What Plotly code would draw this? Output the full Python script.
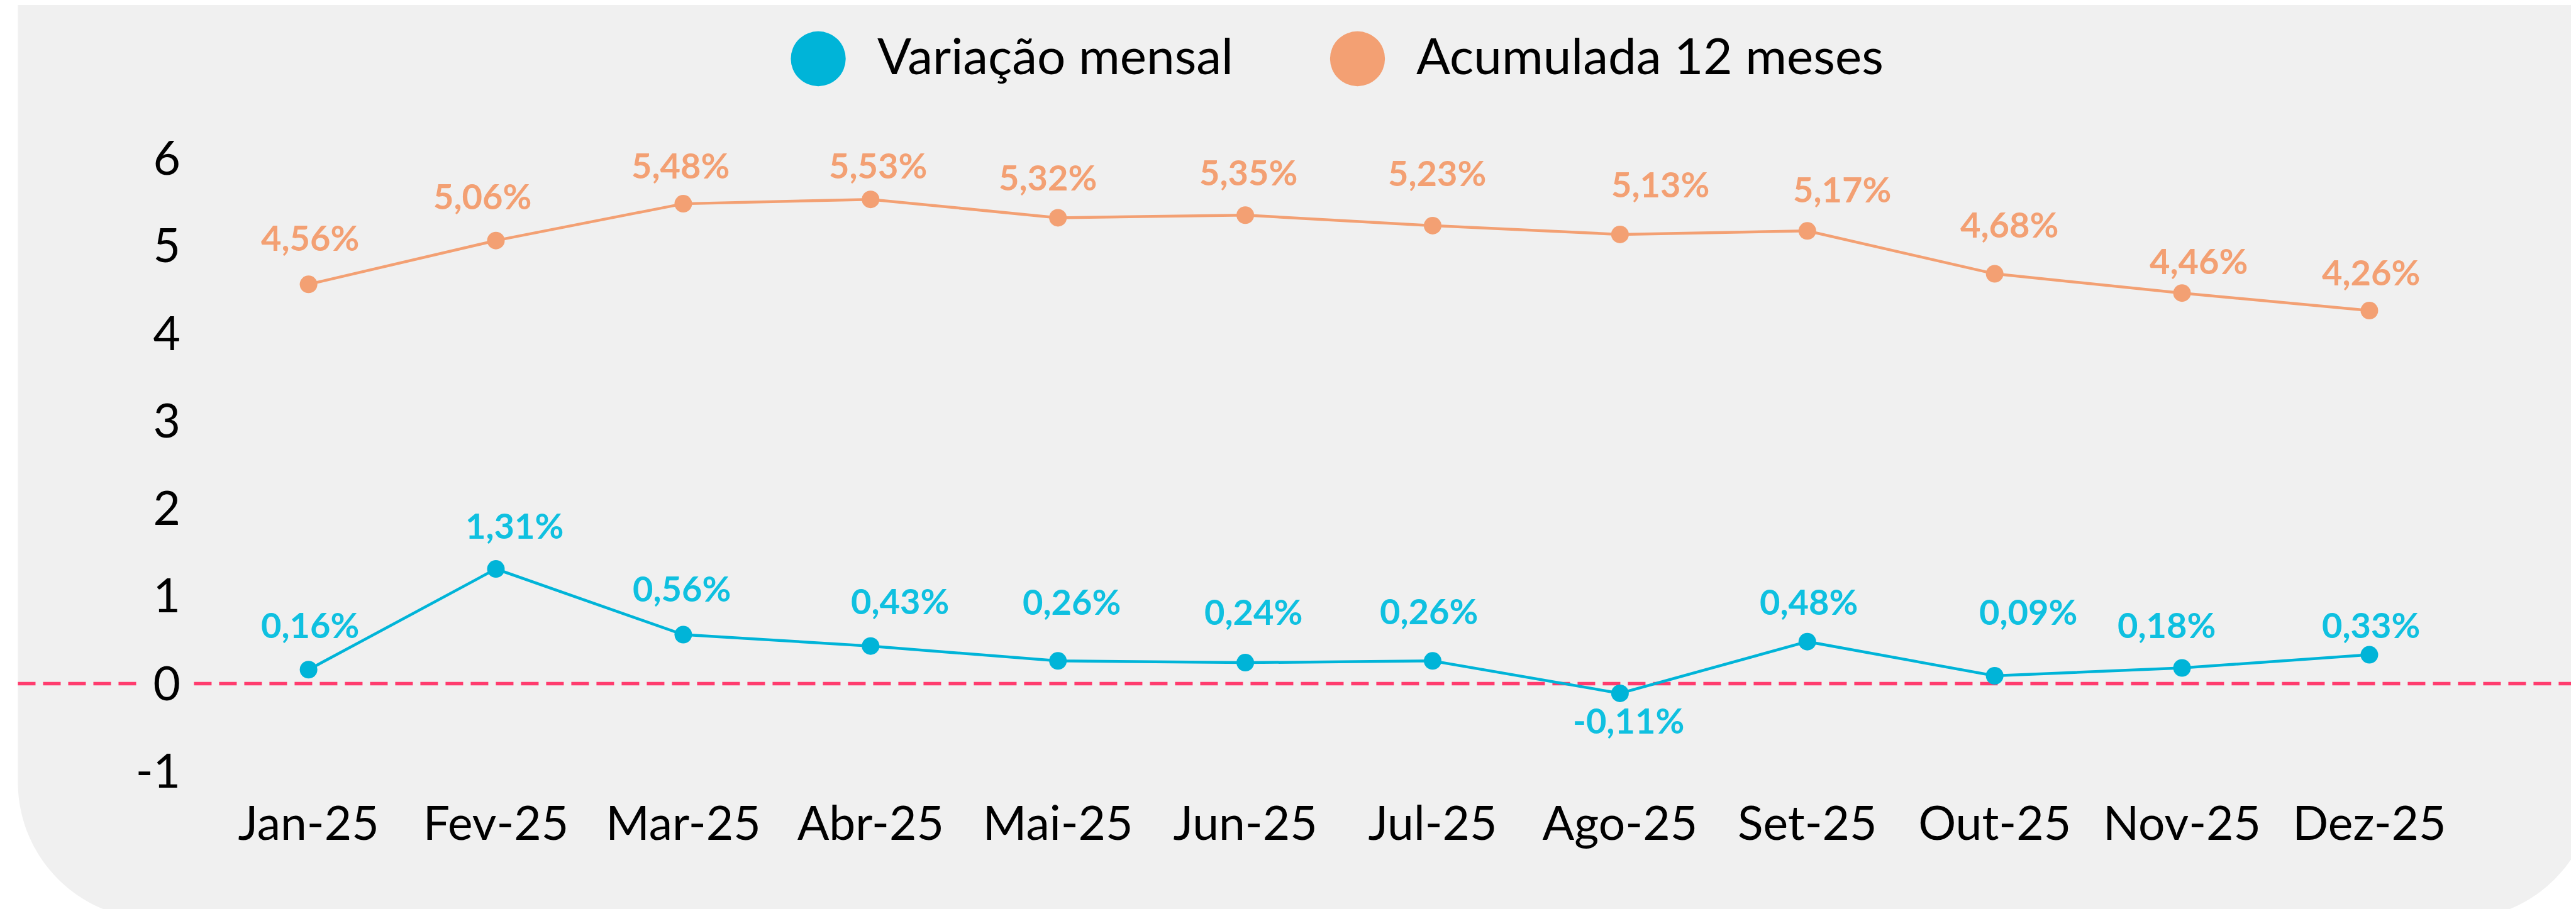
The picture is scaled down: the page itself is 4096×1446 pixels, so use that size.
import plotly.graph_objects as go

# ---------------- data ----------------
categories = ["Jan-25", "Fev-25", "Mar-25", "Abr-25", "Mai-25", "Jun-25",
              "Jul-25", "Ago-25", "Set-25", "Out-25", "Nov-25", "Dez-25"]
variacao_mensal = [0.16, 1.31, 0.56, 0.43, 0.26, 0.24, 0.26, -0.11, 0.48, 0.09, 0.18, 0.33]
acumulada_12m = [4.56, 5.06, 5.48, 5.53, 5.32, 5.35, 5.23, 5.13, 5.17, 4.68, 4.46, 4.26]
y_tick_values = [-1, 0, 1, 2, 3, 4, 5, 6]
y_tick_labels = ["-1", "0", "1", "2", "3", "4", "5", "6"]
series_names = ["Variação mensal", "Acumulada 12 meses"]

# label nudges (reference pixels: dx right, dy up)
mensal_label_nudge = [(3, 76), (31, 73), (-3, 78), (49, 76), (23, 100), (14, 86),
                      (-6, 84), (14, -45), (2, 68), (56, 108), (-26, 73), (3, 51)]
acum_label_nudge = [(2, 79), (-23, 75), (-5, 65), (12, 58), (-17, 68), (5, 72),
                    (7, 89), (68, 85), (58, 70), (25, 83), (28, 54), (3, 65)]

# ---------------- styling / layout ----------------
S = 0.949
W, H = 4096, 1446
OFF = 8  # page body margin offset
BLUE = "#00B4D8"
BLUE_TXT = "#0FC0E0"
ORANGE = "#F3A073"
RED = "#FF3C6E"
PANEL = "#F0F0F0"
FONT = "Lato"

# window-coordinate targets
jan_px = 517 * S
step_px = 313.9 * S
Lw, Rw = 300, 4060
zero_px = 1146 * S
unit_px = 146.8 * S
TOPw, BOTw = 150, 1250

x_range = [(Lw - jan_px) / step_px, (Rw - jan_px) / step_px]
y_range = [-(BOTw - zero_px) / unit_px, (zero_px - TOPw) / unit_px]

L, R = Lw - OFF, Rw - OFF
TOP, BOT = TOPw - OFF, BOTw - OFF


def px_x(px):
    return (px - Lw) / (Rw - Lw)


def px_y(py):
    return (BOTw - py) / (BOTw - TOPw)


def fmt(v):
    return f"{v:.2f}".replace(".", ",") + "%"


fig = go.Figure()
fig.add_trace(go.Scatter(x=categories, y=acumulada_12m, mode="lines+markers",
                         name=series_names[1],
                         line=dict(color=ORANGE, width=4.5),
                         marker=dict(color=ORANGE, size=28), showlegend=False))
fig.add_trace(go.Scatter(x=categories, y=variacao_mensal, mode="lines+markers",
                         name=series_names[0],
                         line=dict(color=BLUE, width=4.5),
                         marker=dict(color=BLUE, size=28), showlegend=False))

annotations = []
for cat, v, (dx, dy) in zip(categories, variacao_mensal, mensal_label_nudge):
    annotations.append(dict(x=cat, y=v, xref="x", yref="y", text=fmt(v), showarrow=False,
                            xanchor="center", yanchor="middle",
                            xshift=dx * S, yshift=dy * S,
                            font=dict(family=FONT, size=56, color=BLUE_TXT, weight="bold")))
for cat, v, (dx, dy) in zip(categories, acumulada_12m, acum_label_nudge):
    annotations.append(dict(x=cat, y=v, xref="x", yref="y", text=fmt(v), showarrow=False,
                            xanchor="center", yanchor="middle",
                            xshift=dx * S, yshift=dy * S,
                            font=dict(family=FONT, size=56, color=ORANGE, weight="bold")))

# custom legend
leg_items = [(series_names[0], BLUE, 1371 * S, 1468 * S),
             (series_names[1], ORANGE, 2274.5 * S, 2371 * S)]
shapes = []
leg_cy = 98.5 * S
leg_d = 92 * S
for name, col, cx, tx in leg_items:
    shapes.append(dict(type="circle", xref="paper", yref="paper",
                       x0=px_x(cx - leg_d / 2), x1=px_x(cx + leg_d / 2),
                       y0=px_y(leg_cy + leg_d / 2), y1=px_y(leg_cy - leg_d / 2),
                       fillcolor=col, line=dict(width=0), layer="above"))
    annotations.append(dict(x=px_x(tx), y=px_y(87), xref="paper", yref="paper",
                            text=name, showarrow=False, xanchor="left", yanchor="middle",
                            font=dict(family=FONT, size=80, color="#000000")))

# background panel with rounded bottom corners
pl, pr, pt, pb, rr = 30 * S, W + 30, -60, 1541 * S, 230 * S
k = 0.5523 * rr


def P(x, y):
    return f"{px_x(x):.6f},{px_y(y):.6f}"


path = (f"M {P(pl, pt)} L {P(pl, pb - rr)} "
        f"C {P(pl, pb - rr + k)} {P(pl + rr - k, pb)} {P(pl + rr, pb)} "
        f"L {P(pr - rr, pb)} "
        f"C {P(pr - rr + k, pb)} {P(pr, pb - rr + k)} {P(pr, pb - rr)} "
        f"L {P(pr, pt)} Z")
shapes.insert(0, dict(type="path", path=path, xref="paper", yref="paper",
                      fillcolor=PANEL, line=dict(width=0), layer="below"))

# dashed zero line (interrupted around the "0" tick label)
for x0, x1 in [(30 * S, 234 * S), (325 * S, W + 30)]:
    shapes.append(dict(type="line", xref="paper", yref="y", x0=px_x(x0), x1=px_x(x1),
                       y0=0, y1=0, line=dict(color=RED, width=5.5, dash="28px,12px"),
                       layer="below"))

fig.update_layout(
    width=W, height=H, autosize=False,
    margin=dict(l=L, r=W - R, t=TOP, b=H - BOT, pad=0),
    paper_bgcolor="#FFFFFF", plot_bgcolor="rgba(0,0,0,0)",
    font=dict(family=FONT, color="#000000"),
    shapes=shapes, annotations=annotations, showlegend=False,
    xaxis=dict(range=x_range, showgrid=False, zeroline=False, showline=False,
               ticks="", tickfont=dict(family=FONT, size=75, color="#000000"),
               ticklabelstandoff=10),
    yaxis=dict(range=y_range, showgrid=False, zeroline=False, showline=False,
               ticks="", tickvals=y_tick_values, ticktext=y_tick_labels,
               tickfont=dict(family=FONT, size=75, color="#000000"),
               ticklabelstandoff=12),
)

fig.write_html("out.html")
